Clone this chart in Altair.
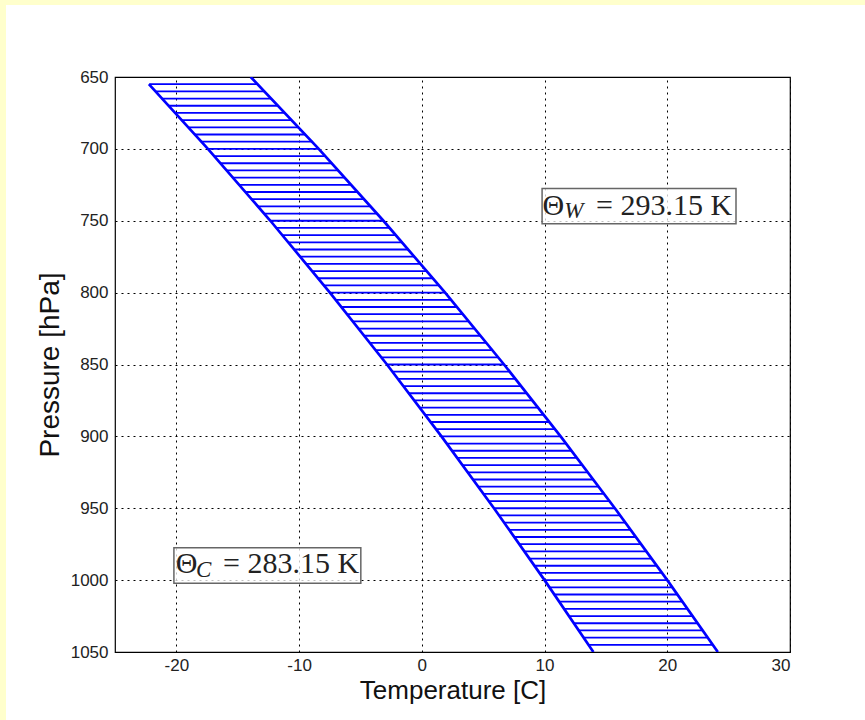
import altair as alt
import pandas as pd

# ---- data ----
# hatch levels (hPa) with the cold / warm boundary temperatures (C)
PRESSURE = [650, 655, 660, 665, 670, 675, 680, 685, 690, 695,
            700, 705, 710, 715, 720, 725, 730, 735, 740, 745,
            750, 755, 760, 765, 770, 775, 780, 785, 790, 795,
            800, 805, 810, 815, 820, 825, 830, 835, 840, 845,
            850, 855, 860, 865, 870, 875, 880, 885, 890, 895,
            900, 905, 910, 915, 920, 925, 930, 935, 940, 945,
            950, 955, 960, 965, 970, 975, 980, 985, 990, 995,
            1000, 1005, 1010, 1015, 1020, 1025, 1030, 1035, 1040, 1045, 1050]
T_COLD = [-22.8, -22.2, -21.7, -21.2, -20.6, -20.1, -19.6, -19.0, -18.5, -18.0,
          -17.4, -16.9, -16.4, -15.9, -15.4, -14.9, -14.4, -13.9, -13.4, -12.8,
          -12.3, -11.9, -11.4, -10.9, -10.4, -9.9, -9.4, -8.9, -8.5, -8.0,
          -7.5, -7.0, -6.6, -6.1, -5.6, -5.2, -4.7, -4.2, -3.8, -3.3,
          -2.8, -2.4, -2.0, -1.5, -1.1, -0.6, -0.2, 0.3, 0.7, 1.2,
          1.6, 2.0, 2.5, 2.9, 3.3, 3.7, 4.2, 4.6, 5.0, 5.5,
          5.9, 6.3, 6.7, 7.1, 7.5, 7.9, 8.4, 8.8, 9.2, 9.6,
          10.0, 10.4, 10.8, 11.2, 11.6, 12.0, 12.4, 12.8, 13.2, 13.6, 14.0]
T_WARM = [-13.9, -13.4, -12.8, -12.3, -11.7, -11.2, -10.6, -10.0, -9.5, -8.9,
          -8.4, -7.9, -7.3, -6.8, -6.3, -5.8, -5.2, -4.7, -4.2, -3.7,
          -3.1, -2.6, -2.1, -1.6, -1.1, -0.6, -0.1, 0.4, 0.9, 1.4,
          1.9, 2.4, 2.9, 3.3, 3.8, 4.3, 4.8, 5.3, 5.7, 6.2,
          6.7, 7.2, 7.6, 8.1, 8.5, 9.0, 9.5, 9.9, 10.4, 10.9,
          11.3, 11.8, 12.2, 12.6, 13.1, 13.5, 14.0, 14.4, 14.9, 15.3,
          15.7, 16.2, 16.6, 17.0, 17.4, 17.9, 18.3, 18.7, 19.1, 19.6,
          20.0, 20.4, 20.8, 21.2, 21.6, 22.1, 22.5, 22.9, 23.3, 23.7, 24.1]

# boundary curves (finer values at coarser levels, for a smooth line)
COLD_P = [655, 700, 750, 800, 850, 900, 950, 1000, 1050]
COLD_T = [-22.24, -17.43, -12.34, -7.49, -2.84, 1.60, 5.88, 10.00, 13.98]
WARM_P = [650, 700, 750, 800, 850, 900, 950, 1000, 1050]
WARM_T = [-13.94, -8.40, -3.13, 1.90, 6.70, 11.31, 15.73, 20.00, 24.12]

X_TICKS = [-20, -10, 0, 10, 20, 30]
Y_TICKS = [650, 700, 750, 800, 850, 900, 950, 1000, 1050]

# annotation boxes (data units)
ANN_SUB = ["C", "W"]
ANN_VALUE = ["= 283.15 K", "= 293.15 K"]
BOX_T1 = [-20.2, 9.8]
BOX_T2 = [-4.97, 25.6]
BOX_P1 = [977.4, 727.6]
BOX_P2 = [1002.2, 752.0]
THETA_T = [-20.05, 9.84]
THETA_P = [994.8, 745.9]
SUB_T = [-18.4, 11.6]
SUB_P = [997.9, 748.0]
VAL_T = [-16.2, 14.2]

# ---- tables ----
n = len(PRESSURE)
hatch = pd.DataFrame({"p": PRESSURE[1:n - 1], "tc": T_COLD[1:n - 1], "tw": T_WARM[1:n - 1]})
curves = pd.concat([
    pd.DataFrame({"p": COLD_P, "T": COLD_T, "curve": "cold"}),
    pd.DataFrame({"p": WARM_P, "T": WARM_T, "curve": "warm"}),
])
ann = pd.DataFrame({
    "sub": ANN_SUB, "val": ANN_VALUE, "theta": ["Θ", "Θ"],
    "t1": BOX_T1, "t2": BOX_T2, "p1": BOX_P1, "p2": BOX_P2,
    "tt": THETA_T, "tp": THETA_P, "st": SUB_T, "sp": SUB_P, "vt": VAL_T,
})
one = pd.DataFrame({"a": [0]})

xs = alt.Scale(domain=[-25, 30], nice=False, zero=False)
ys = alt.Scale(domain=[650, 1050], reverse=True, nice=False, zero=False)
xaxis = alt.Axis(values=X_TICKS, title="Temperature [C]", labelExpr="'' + datum.value")
yaxis = alt.Axis(values=Y_TICKS, title="Pressure [hPa]", labelExpr="'' + datum.value")


def X(f):
    return alt.X(f, type="quantitative", scale=xs, axis=xaxis)


def Y(f):
    return alt.Y(f, type="quantitative", scale=ys, axis=yaxis)


BLUE = "#0000ff"

hatch_layer = alt.Chart(hatch).mark_rule(color=BLUE, strokeWidth=1.8, clip=True).encode(
    x=X("tc"), x2="tw", y=Y("p"))

curve_layer = alt.Chart(curves).mark_line(color=BLUE, strokeWidth=2.7, clip=True).encode(
    x=X("T"), y=Y("p"), detail="curve:N", order="p:Q")

box_layer = alt.Chart(ann).mark_rect(fill="white", fillOpacity=0.75, stroke="#666666",
                                     strokeWidth=1.5).encode(
    x=X("t1"), x2="t2", y=Y("p1"), y2="p2")

theta_layer = alt.Chart(ann).mark_text(font="Liberation Serif", fontSize=30, align="left",
                                       baseline="alphabetic", color="#222222").encode(
    x=X("tt"), y=Y("tp"), text="theta:N")

sub_layer = alt.Chart(ann).mark_text(font="Liberation Serif", fontSize=23, fontStyle="italic",
                                     align="left", baseline="alphabetic", color="#222222").encode(
    x=X("st"), y=Y("sp"), text="sub:N")

val_layer = alt.Chart(ann).mark_text(font="Liberation Serif", fontSize=30, align="left",
                                     baseline="alphabetic", color="#222222").encode(
    x=X("vt"), y=Y("tp"), text="val:N")

# yellow page strips (top and left edges of the figure)
strip_top = alt.Chart(one).mark_rect(color="#ffffcc").encode(
    x=alt.value(-115), x2=alt.value(750), y=alt.value(-77), y2=alt.value(-72))
strip_left = alt.Chart(one).mark_rect(color="#ffffcc").encode(
    x=alt.value(-115), x2=alt.value(-109), y=alt.value(-77), y2=alt.value(643))

chart = alt.layer(
    strip_top, strip_left, hatch_layer, curve_layer, box_layer, theta_layer, sub_layer, val_layer
).properties(
    width=675, height=575,
    autosize=alt.AutoSizeParams(type="none"),
    padding={"left": 115, "top": 77, "right": 75, "bottom": 68},
    background="white",
).configure_view(
    stroke="black", strokeWidth=1.2,
).configure_axis(
    grid=True, gridColor="black", gridDash=[2, 4], gridWidth=1, gridOpacity=1,
    domain=False, ticks=False,
    labelFont="Liberation Sans", labelFontSize=17, labelColor="#222222",
    titleFont="Liberation Sans", titleFontWeight="normal", titleColor="#111111",
).configure_axisX(
    labelPadding=5, titleFontSize=26, titlePadding=4,
).configure_axisY(
    labelPadding=7, titleFontSize=28, titlePadding=6,
)

chart.save("out.html", embed_options={"renderer": "svg", "actions": False})
